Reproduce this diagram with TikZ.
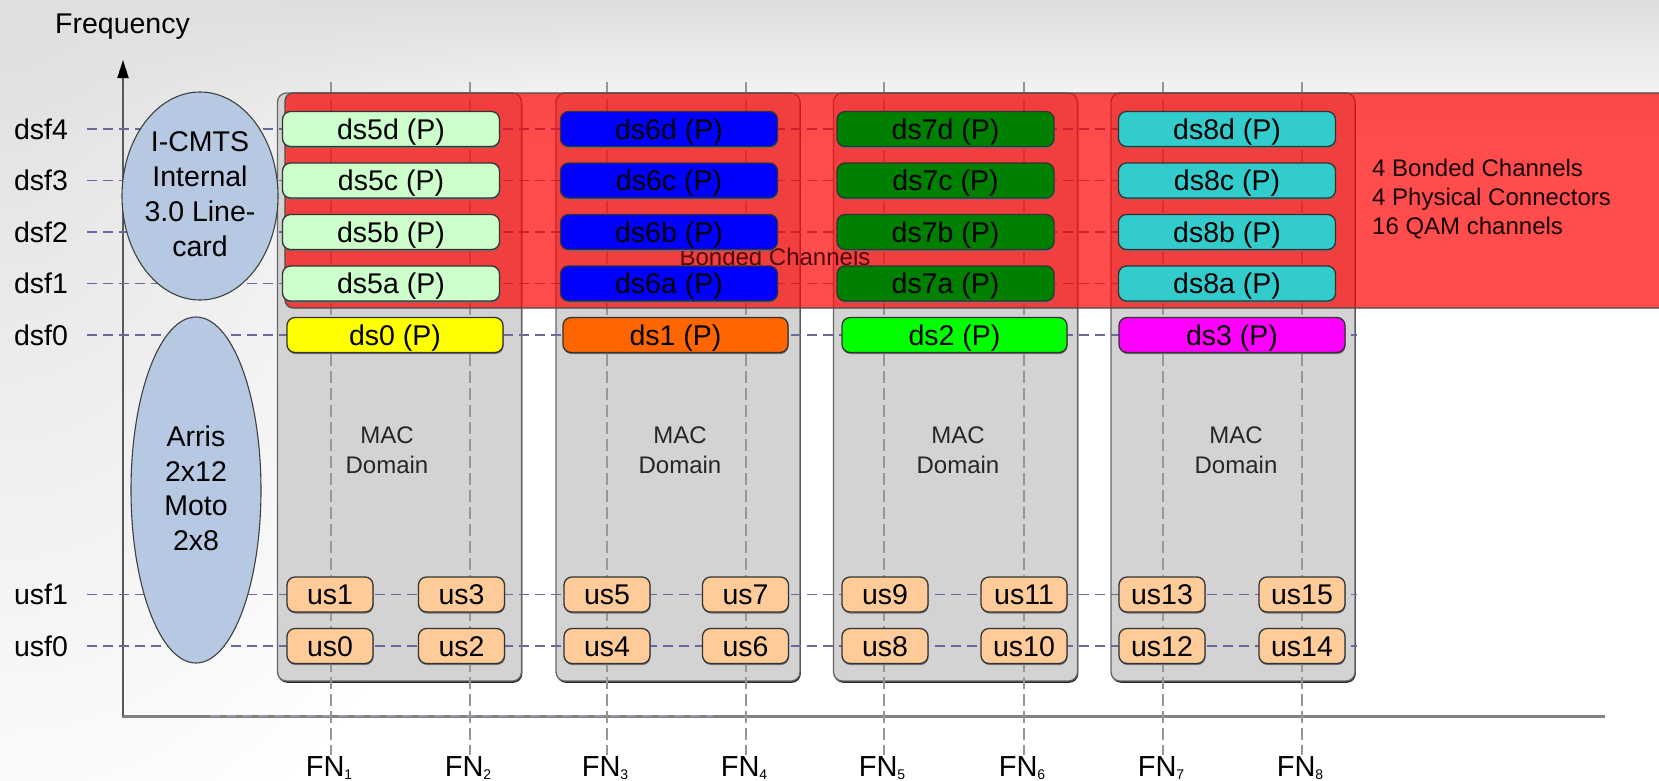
\documentclass[tikz,border=0pt]{standalone}
\usepackage{fontspec}
\setmainfont{Liberation Sans}
\usetikzlibrary{arrows.meta,fadings,shadows,shapes.geometric}

\definecolor{peach}{RGB}{255,204,153}
\definecolor{palegreen}{RGB}{204,255,204}
\definecolor{turq}{RGB}{51,204,204}
\definecolor{dgreen}{RGB}{0,128,0}
\definecolor{brightgreen}{RGB}{0,255,0}
\definecolor{orangeds}{RGB}{255,102,0}
\definecolor{yellowds}{RGB}{255,255,0}
\definecolor{blueds}{RGB}{0,0,255}
\definecolor{magentads}{RGB}{255,0,255}
\definecolor{bandred}{RGB}{255,0,0}
\definecolor{ellfill}{RGB}{183,200,227}
\definecolor{macgray}{RGB}{211,211,211}
\definecolor{rowcol}{RGB}{105,105,155}
\definecolor{fncol}{RGB}{150,150,150}
\definecolor{banddark}{RGB}{80,10,10}
\definecolor{noteink}{RGB}{25,5,5}

\tikzfading[name=cornerfade, inner color=transparent!0, outer color=transparent!100]

\pgfdeclarelayer{back}
\pgfdeclarelayer{lines}
\pgfdeclarelayer{band}
\pgfsetlayers{back,lines,band,main}

\begin{document}
\begin{tikzpicture}[x=1pt,y=-1pt,
  txt/.style={font=\fontsize{28.5}{35}\selectfont},
  midtxt/.style={font=\fontsize{24}{30}\selectfont},
  pill/.style={draw=black!80, line width=1.3pt, rounded corners=8pt,
    minimum height=35pt, inner sep=0pt, text height=20pt, text depth=0pt, txt,
    general shadow={fill=black!55, shadow xshift=0.5pt, shadow yshift=-1.5pt}},
  dspill/.style={pill, minimum width=217pt},
  uspill/.style={pill, fill=peach, minimum width=86pt},
  macbox/.style={draw=black!60, line width=1.3pt, fill=macgray, rounded corners=9pt,
    minimum width=244pt, minimum height=588pt, inner sep=0pt,
    general shadow={fill=black!85, shadow xshift=0.8pt, shadow yshift=-1.8pt}},
  rowlab/.style={txt, inner sep=0pt, text height=20pt, text depth=0pt},
  rowline/.style={draw=rowcol, line width=1.6pt, dash pattern=on 10pt off 6pt},
  fnline/.style={draw=fncol, line width=1.5pt, dash pattern=on 12pt off 5pt},
  fnlab/.style={font=\fontsize{29}{35}\selectfont, inner sep=0pt, text height=21pt, text depth=3pt},
  blob/.style={ellipse, draw=black!75, line width=1.1pt, fill=ellfill, inner sep=0pt},
]
\useasboundingbox (0,0) rectangle (1659,780);

% ---------- background and MAC domain boxes ----------
\begin{pgfonlayer}{back}
  \fill[white] (0,0) rectangle (1659,780);
  \shade[top color=black!13, bottom color=white] (0,0) rectangle (1659,150);
  \begin{scope}
    \clip (0,0) rectangle (1659,780);
    \fill[black!12, path fading=cornerfade] (-560,-900) rectangle (560,900);
  \end{scope}
  \node[macbox] (mac1) at (399.5,387) {};
  \node[macbox] (mac2) at (678,387) {};
  \node[macbox] (mac3) at (955.5,387) {};
  \node[macbox] (mac4) at (1233,387) {};
\end{pgfonlayer}

% ---------- labels ----------
\node[rowlab] (freq) at (122.5,23) {Frequency};
\foreach \l/\y in {dsf4/129, dsf3/180.5, dsf2/232, dsf1/283.5, dsf0/335, usf1/594.5, usf0/646}
  \node[rowlab] (\l) at (41,\y) {\l};

% ---------- bonded downstream channels ----------
\foreach \n/\x/\c in {5/391/palegreen, 6/669/blueds, 7/945.5/dgreen, 8/1227/turq}
  \foreach \s/\y in {d/129, c/180.5, b/232, a/283.5}
    \node[dspill, fill=\c] (ds\n\s) at (\x,\y) {ds\n\s\ (P)};

% ---------- primary downstream channels ----------
\foreach \n/\x/\w/\c in {0/395/216/yellowds, 1/675.5/225/orangeds, 2/954.5/225/brightgreen, 3/1232/226/magentads}
  \node[pill, fill=\c, minimum width=\w pt] (ds\n) at (\x,335) {ds\n\ (P)};

% ---------- upstream channels ----------
\foreach \o/\e/\x in {1/0/330, 3/2/461.5, 5/4/607, 7/6/745.5, 9/8/885, 11/10/1024, 13/12/1162, 15/14/1302} {
  \node[uspill] (us\o) at (\x,594.5) {us\o};
  \node[uspill] (us\e) at (\x,646) {us\e};
}

% ---------- MAC domain captions ----------
\foreach \i/\x in {1/387, 2/680, 3/958, 4/1236}
  \node[midtxt, align=center, text=black!85, inner sep=0pt] (macl\i) at (\x,450) {MAC\\Domain};

% ---------- line cards ----------
\node[blob, minimum width=156pt, minimum height=208pt] (cmts) at (200,196) {};
\node[txt, align=center, inner sep=0pt] (cmtstxt) at (200,194.5) {I-CMTS\\Internal\\3.0 Line-\\card};
\node[blob, minimum width=130pt, minimum height=346pt] (arris) at (196,490) {};
\node[font=\fontsize{28.5}{34.5}\selectfont, align=center, inner sep=0pt] (arristxt) at (196,488.5) {Arris\\2x12\\Moto\\2x8};

% ---------- fiber node labels ----------
\foreach \i/\x in {1/331, 2/470, 3/607, 4/746, 5/884, 6/1024, 7/1163, 8/1302} {
  \node[fnlab] (fn\i) at (\x-2,767) {FN\raisebox{-3pt}{\fontsize{14}{14}\selectfont\i}};
  \coordinate (fntop\i) at (\x,82);
}

% ---------- axes ----------
\coordinate (yaxbot) at (123,716);
\coordinate (yaxtop) at (123,60);
\coordinate (xaxl) at (122,716);
\coordinate (xaxr) at (1605,716);
\coordinate (xdash1) at (210,716);
\coordinate (xdash2) at (713,716);

\begin{pgfonlayer}{lines}
  \draw[line width=3pt, draw=black!50] (xaxl) -- (xaxr);
  \draw[rowline, line width=2.6pt, draw=rowcol!70] (xdash1) -- (xdash2);
  \draw[line width=2pt, draw=black!65, -{Triangle[length=18pt,width=11pt,color=black]}] (yaxbot) -- (yaxtop);
  \foreach \i in {1,...,8}
    \draw[fnline] (fntop\i) -- (fntop\i |- fn\i.north);
  \draw[rowline] ([xshift=19pt]dsf4.east) -- (ds8d.west);
  \draw[rowline] ([xshift=19pt]dsf3.east) -- (ds8c.west);
  \draw[rowline, line width=2.3pt] ([xshift=19pt]dsf2.east) -- (ds8b.west);
  \draw[rowline] ([xshift=19pt]dsf1.east) -- (ds8a.west);
  \draw[rowline, line width=2.3pt] ([xshift=19pt]dsf0.east) -- ([xshift=11pt]ds3.east);
  \draw[rowline] ([xshift=19pt]usf1.east) -- ([xshift=11pt]us15.east);
  \draw[rowline, line width=2.3pt] ([xshift=19pt]usf0.east) -- ([xshift=11pt]us14.east);
\end{pgfonlayer}

% ---------- bonding group ----------
\coordinate (bandnw) at (285,93);
\coordinate (bandse) at (1720,308);
\begin{pgfonlayer}{band}
  \filldraw[fill=bandred, fill opacity=0.7, draw=black!70, line width=1.2pt, rounded corners=8pt] (bandnw) rectangle (bandse);
  \node[midtxt, text=banddark, inner sep=0pt, text height=17.5pt, text depth=0pt] (bondlab) at (775,257) {Bonded Channels};
  \node[font=\fontsize{24}{29}\selectfont, align=left, text=noteink, text opacity=1, inner sep=0pt, anchor=north west] (bondnote) at (1372,158.5)
    {4 Bonded Channels\\4 Physical Connectors\\16 QAM channels};
\end{pgfonlayer}
\end{tikzpicture}
\end{document}
